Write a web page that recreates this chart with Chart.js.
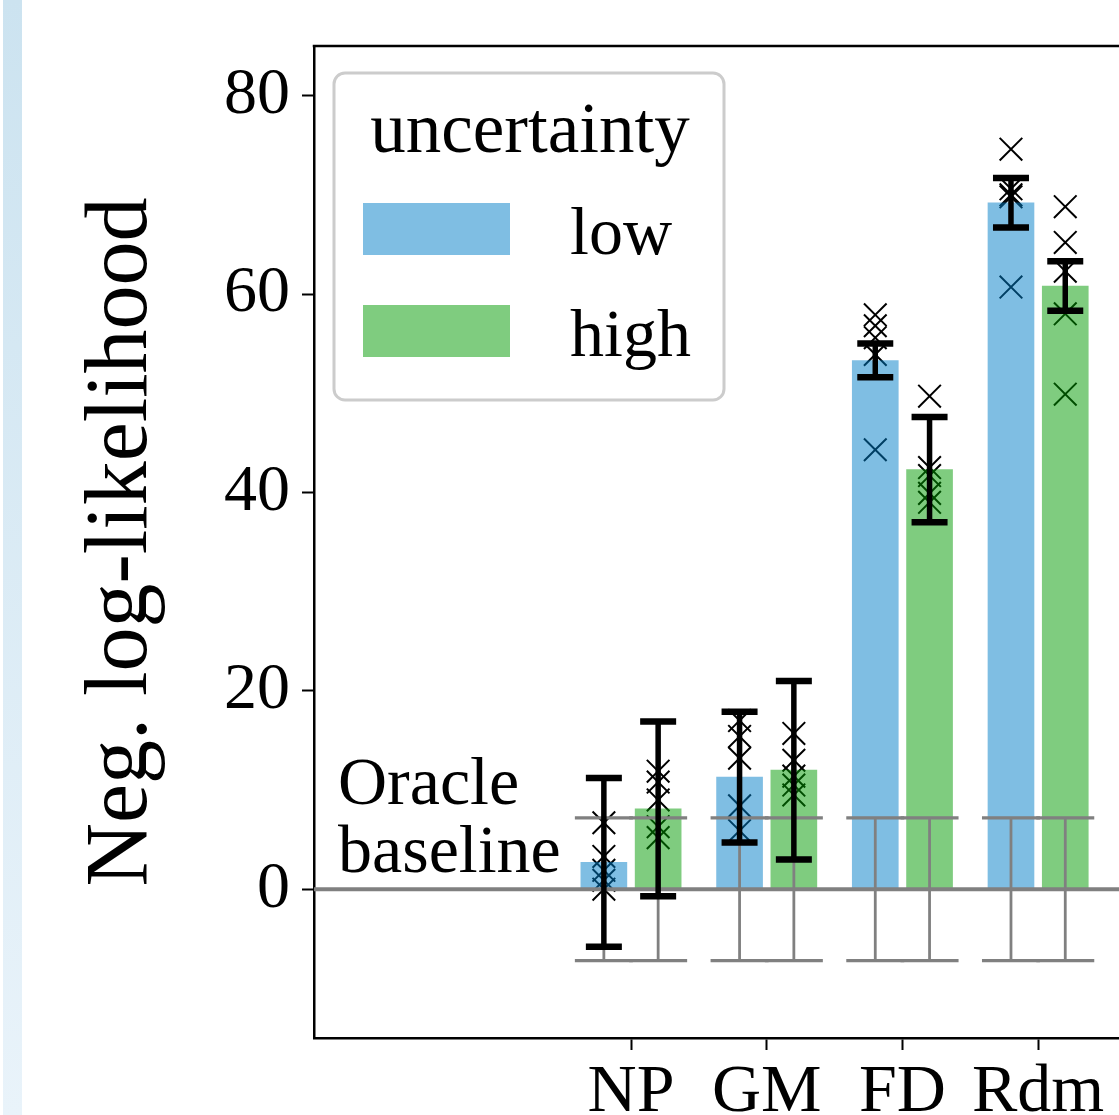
<!DOCTYPE html>
<html>
<head>
<meta charset="utf-8">
<script src="https://cdn.jsdelivr.net/npm/chart.js@4.4.0/dist/chart.umd.min.js"></script>
<style>
    body { margin: 0; background: #fff; overflow: hidden; }
    #wrap { position: relative; width: 1119px; height: 1115px; }
    #strip {
        position: absolute; left: 3px; top: 0; width: 19px; height: 1115px;
        background: linear-gradient(#cce3f0, #e9f3fa);
    }
    canvas { position: absolute; left: 0; top: 0; }
</style>
</head>
<body>
<div id="wrap">
    <div id="strip"></div>
    <canvas id="nllChart" width="1119" height="1115"></canvas>
</div>
<script>
// categories and values
const categories = ['NP', 'GM', 'FD', 'Rdm'];
const lowMeans = [2.7, 11.3, 53.3, 69.2];
const highMeans = [8.1, 12.0, 42.3, 60.8];
const lowErr = [8.5, 6.6, 1.7, 2.5];
const highErr = [8.8, 9.0, 5.3, 2.5];
const lowRuns = [
    [6.7, 3.3, 1.9, 0.9, 0.0],
    [17.0, 15.4, 13.2, 8.4, 5.9],
    [57.9, 56.8, 55.6, 53.9, 44.3],
    [74.6, 70.6, 70.0, 69.8, 60.7],
];
const highRuns = [
    [11.9, 10.8, 9.0, 6.3, 5.2],
    [15.7, 13.0, 11.4, 10.5, 9.5],
    [49.7, 42.5, 41.7, 39.9, 39.0],
    [68.8, 65.2, 62.3, 58.0, 49.9],
];
const oracleErr = 7.2;
const yTicks = [0, 20, 40, 60, 80];
const seriesNames = ['low', 'high'];

const lowColor = 'rgba(0, 125, 200, 0.5)';
const highColor = 'rgba(0, 153, 0, 0.5)';
const offsets = [-0.2, 0.2];
const serif = '"Liberation Serif", "Times New Roman", serif';

Chart.defaults.font.family = serif;
Chart.defaults.color = '#000';

const barPoints = (means, off) => means.map((v, i) => ({ x: i + off, y: v }));
const runPoints = (runs, off) => runs.flatMap((r, i) => r.map(v => ({ x: i + off, y: v })));

// error bars, oracle line, legend and extra text
const extrasPlugin = {
    id: 'extras',
    afterDatasetsDraw(chart) {
        const { ctx, chartArea, scales: { x, y } } = chart;
        ctx.save();
        ctx.strokeStyle = 'gray';
        // oracle baseline at zero
        ctx.lineWidth = 4;
        ctx.beginPath();
        ctx.moveTo(chartArea.left, y.getPixelForValue(0));
        ctx.lineTo(chartArea.right, y.getPixelForValue(0));
        ctx.stroke();

        const drawBar = (px, lo, hi, lw, capW, capLw) => {
            const yTop = y.getPixelForValue(hi), yBot = y.getPixelForValue(lo);
            ctx.lineWidth = lw;
            ctx.beginPath();
            ctx.moveTo(px, yTop);
            ctx.lineTo(px, yBot);
            ctx.stroke();
            ctx.lineWidth = capLw;
            ctx.beginPath();
            ctx.moveTo(px - capW / 2, yTop);
            ctx.lineTo(px + capW / 2, yTop);
            ctx.moveTo(px - capW / 2, yBot);
            ctx.lineTo(px + capW / 2, yBot);
            ctx.stroke();
        };

        // grey oracle spread around each bar
        categories.forEach((c, i) => {
            offsets.forEach(off => {
                drawBar(x.getPixelForValue(i + off), -oracleErr, oracleErr, 2.8, 58, 3.2);
            });
        });

        // black error bars
        ctx.strokeStyle = '#000';
        categories.forEach((c, i) => {
            drawBar(x.getPixelForValue(i + offsets[0]), lowMeans[i] - lowErr[i], lowMeans[i] + lowErr[i], 5.5, 36, 6.5);
            drawBar(x.getPixelForValue(i + offsets[1]), highMeans[i] - highErr[i], highMeans[i] + highErr[i], 5.5, 36, 6.5);
        });
        ctx.restore();
    },
    afterDraw(chart) {
        const { ctx, chartArea, scales: { y } } = chart;
        ctx.save();
        // top spine
        ctx.strokeStyle = '#000';
        ctx.lineWidth = 2.5;
        ctx.beginPath();
        ctx.moveTo(chartArea.left - 1.25, chartArea.top);
        ctx.lineTo(chartArea.right, chartArea.top);
        ctx.stroke();

        // oracle text
        const zeroY = y.getPixelForValue(0);
        ctx.fillStyle = '#000';
        ctx.font = '68px ' + serif;
        ctx.textAlign = 'left';
        ctx.textBaseline = 'alphabetic';
        ctx.fillText('Oracle', chartArea.left + 24, zeroY - 85);
        ctx.fillText('baseline', chartArea.left + 24, zeroY - 17);

        // legend
        const lx = chartArea.left + 20, ly = chartArea.top + 27;
        const lw = 390, lh = 327;
        ctx.beginPath();
        ctx.roundRect(lx, ly, lw, lh, 11);
        ctx.fillStyle = 'rgba(255,255,255,0.8)';
        ctx.fill();
        ctx.strokeStyle = '#cccccc';
        ctx.lineWidth = 3;
        ctx.stroke();

        ctx.fillStyle = '#000';
        ctx.textAlign = 'center';
        ctx.font = '71px ' + serif;
        ctx.fillText('uncertainty', lx + 196, ly + 79);
        ctx.font = '68px ' + serif;
        [lowColor, highColor].forEach((col, k) => {
            const sy = ly + 130 + k * 102;
            ctx.fillStyle = col;
            ctx.fillRect(lx + 29, sy, 147, 52);
            ctx.fillStyle = '#000';
            ctx.textAlign = 'left';
            ctx.fillText(seriesNames[k], lx + 236, sy + 51);
        });
        ctx.restore();
    }
};

const ctx = document.getElementById('nllChart').getContext('2d');
new Chart(ctx, {
    type: 'bar',
    data: {
        datasets: [
            {
                label: seriesNames[0],
                data: barPoints(lowMeans, offsets[0]),
                backgroundColor: lowColor,
                barThickness: 46,
                grouped: false,
                order: 1,
            },
            {
                label: seriesNames[1],
                data: barPoints(highMeans, offsets[1]),
                backgroundColor: highColor,
                barThickness: 46,
                grouped: false,
                order: 1,
            },
            {
                type: 'scatter',
                data: runPoints(lowRuns, offsets[0]),
                pointStyle: 'crossRot',
                pointRadius: 16,
                pointBorderColor: '#000',
                pointBorderWidth: 2,
                borderColor: '#000',
                order: 2,
            },
            {
                type: 'scatter',
                data: runPoints(highRuns, offsets[1]),
                pointStyle: 'crossRot',
                pointRadius: 16,
                pointBorderColor: '#000',
                pointBorderWidth: 2,
                borderColor: '#000',
                order: 2,
            },
        ],
    },
    options: {
        responsive: false,
        animation: false,
        layout: { autoPadding: false, padding: { top: 46, left: 0, right: 0, bottom: 0 } },
        plugins: {
            legend: { display: false },
            tooltip: { enabled: false },
        },
        scales: {
            x: {
                type: 'linear',
                offset: false,
                min: -2.336,
                max: 3.596,
                afterBuildTicks: s => { s.ticks = categories.map((c, i) => ({ value: i })); },
                afterFit: s => {
                    s.height = 77;
                    s.paddingLeft = 0;
                    s.paddingRight = 0;
                },
                ticks: {
                    callback: v => categories[v],
                    autoSkip: false,
                    maxRotation: 0,
                    font: { size: 68 },
                    padding: 2,
                    color: '#000',
                },
                grid: { offset: false, drawOnChartArea: false, tickLength: 12, tickWidth: 2, tickColor: '#000' },
                border: { display: true, color: '#000', width: 2.5 },
            },
            y: {
                type: 'linear',
                min: -15,
                max: 85,
                afterBuildTicks: s => { s.ticks = yTicks.map(v => ({ value: v })); },
                afterFit: s => {
                    s.width = 314;
                    s.paddingTop = 0;
                    s.paddingBottom = 0;
                },
                ticks: { font: { size: 66 }, padding: 12, color: '#000' },
                grid: { drawOnChartArea: false, tickLength: 12, tickWidth: 2, tickColor: '#000' },
                border: { display: true, color: '#000', width: 2.5 },
                title: {
                    display: true,
                    text: 'Neg. log-likelihood',
                    font: { size: 88 },
                    color: '#000',
                    padding: { top: 70 },
                },
            },
        },
    },
    plugins: [extrasPlugin],
});
</script>
</body>
</html>
